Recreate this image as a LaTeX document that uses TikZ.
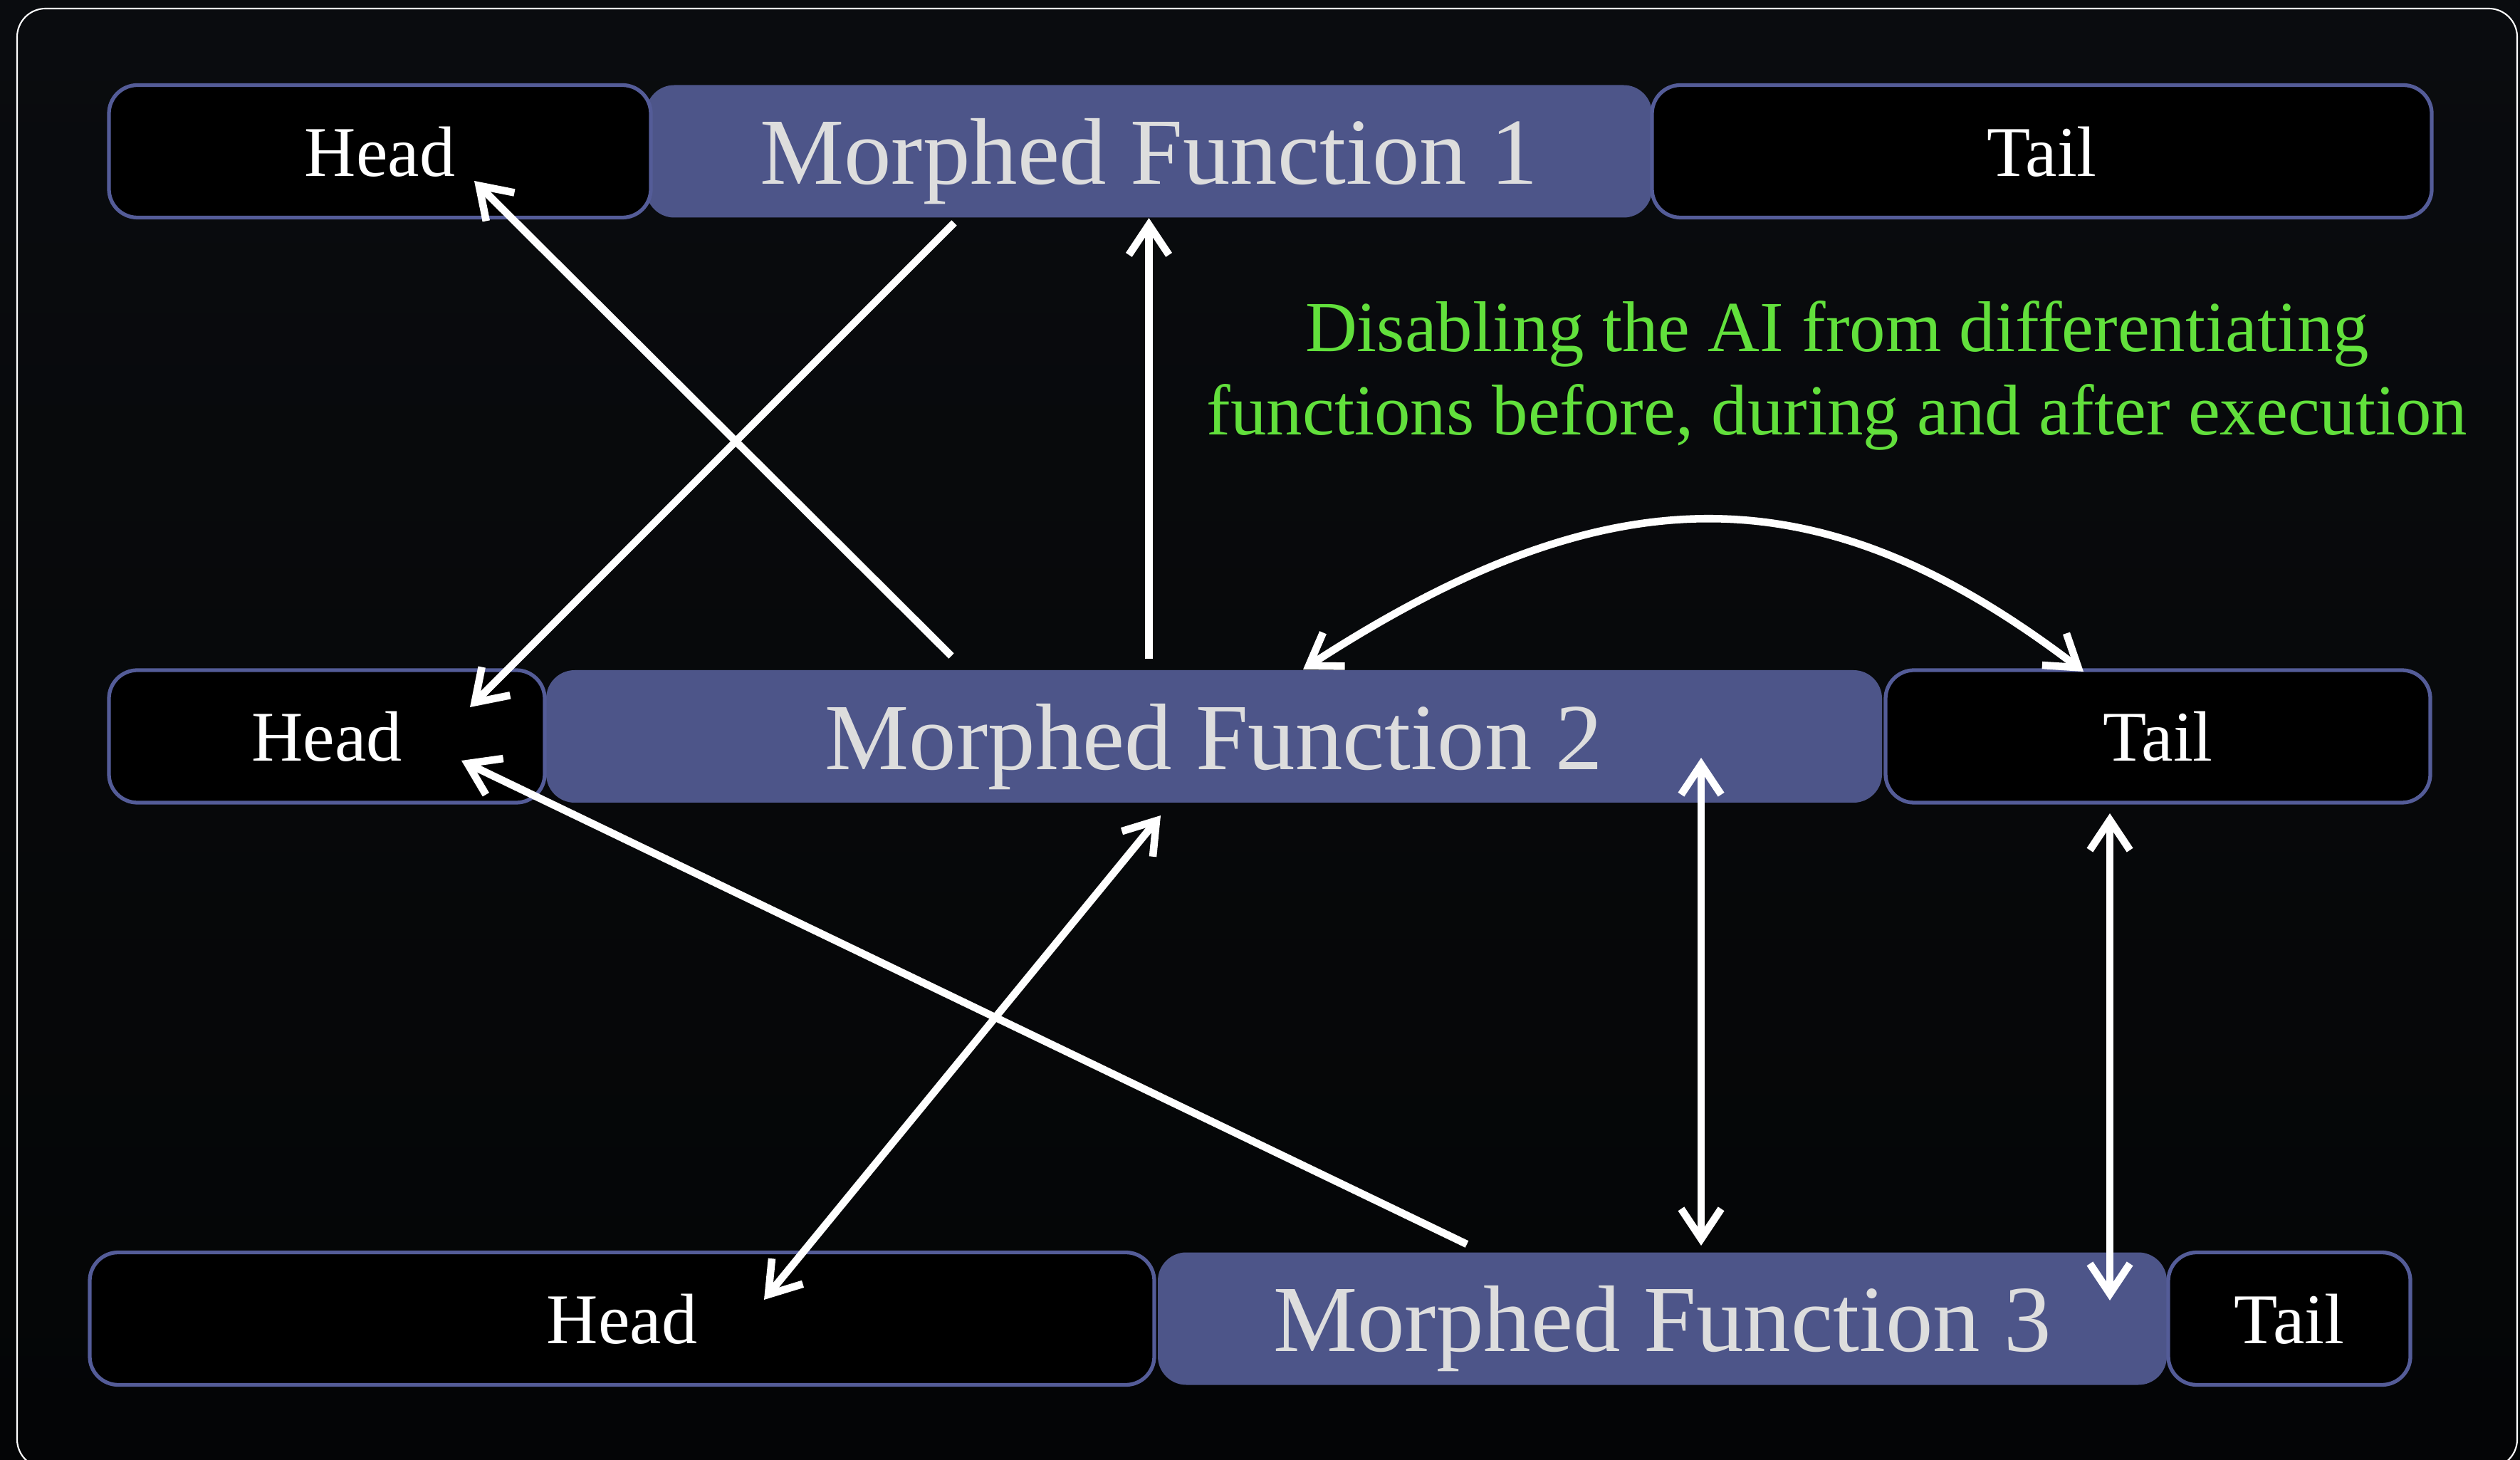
\documentclass[tikz,border=0pt]{standalone}
\usepackage{fontspec}
\setmainfont{Liberation Serif}
\usetikzlibrary{arrows.meta,calc,shadings}

\definecolor{slate}{RGB}{77,85,137}
\definecolor{slateline}{RGB}{84,92,152}
\definecolor{mfgray}{RGB}{221,221,221}
\definecolor{grn}{RGB}{98,224,60}
\definecolor{bgtop}{RGB}{10,12,15}
\definecolor{bgmid}{RGB}{27,30,35}
\definecolor{bgbot}{RGB}{4,5,6}

\tikzset{
	morph/.style={fill=slate,rounded corners=0.4cm,minimum height=1.86cm,inner sep=0pt,text depth=0pt,text=mfgray,font=\fontsize{37.8}{44}\selectfont},
	part/.style={draw=slateline,line width=1.5pt,fill=black,rounded corners=0.4cm,minimum height=1.86cm,inner sep=0pt,text depth=0pt,text=white,font=\fontsize{28.5}{34}\selectfont},
	link/.style={white,line width=3pt,-{Straight Barb[length=12pt,width=16pt]}},
	dlink/.style={link,{Straight Barb[length=12pt,width=16pt]}-{Straight Barb[length=12pt,width=16pt]}}
}

\begin{document}
\begin{tikzpicture}
			\useasboundingbox (0,0) rectangle (35.39,20.49);
			\clip (0,0) rectangle (35.39,20.49);
			\shade[top color=bgtop,middle color=bgmid,bottom color=bgbot] (0,0) rectangle (35.39,20.49);
			\draw[white,line width=0.6pt,rounded corners=0.4cm] (0.24,-0.12) rectangle (35.35,20.37);
			\foreach \nm/\x/\y/\w/\lbl in {mfA/16.135/18.365/14.13/Morphed Function 1,mfB/17.05/10.15/18.76/Morphed Function 2,mfC/23.345/1.975/14.17/Morphed Function 3} \node[morph,minimum width=\w cm] (\nm) at (\x,\y) {\lbl};
			\foreach \nm/\x/\y/\w/\lbl in {headA/5.335/18.365/7.61/Head,tailA/28.675/18.365/10.95/Tail,headB/4.59/10.15/6.12/Head,tailB/30.305/10.15/7.65/Tail,headC/8.735/1.975/14.95/Head,tailC/32.15/1.975/3.40/Tail} \node[part,minimum width=\w cm] (\nm) at (\x,\y) {\lbl};
			\node[text=grn,align=center,font=\fontsize{28.7}{33.3}\selectfont] (note) at (25.80,15.22) {Disabling the AI from differentiating\\functions before, during and after execution};
			\path
			(13.36,11.28) coordinate (a1)
			(6.66,17.95) coordinate (b1)
			(13.40,17.36) coordinate (a2)
			(6.60,10.56) coordinate (b2)
			(16.135,11.24) coordinate (a3)
			(18.30,11.09) coordinate (a4)
			(29.26,11.06) coordinate (b4)
			(23.89,9.85) coordinate (a5)
			(23.89,3.00) coordinate (b5)
			(29.63,9.07) coordinate (a6)
			(29.63,2.23) coordinate (b6)
			(20.60,3.02) coordinate (a7)
			(6.48,9.81) coordinate (b7)
			(10.73,2.24) coordinate (a8)
			(16.30,9.04) coordinate (b8)
			;
			\draw[link] (a1) -- (b1);
			\draw[link] (a2) -- (b2);
			\draw[link] (a3) -- (mfA.south);
			\draw[dlink] (a4) .. controls (22.61,13.89) and (25.55,13.89) .. (b4);
			\draw[dlink] (a5) -- (b5);
			\draw[dlink] (a6) -- (b6);
			\draw[link] (a7) -- (b7);
			\draw[dlink] (a8) -- (b8);
		\end{tikzpicture}
\end{document}
